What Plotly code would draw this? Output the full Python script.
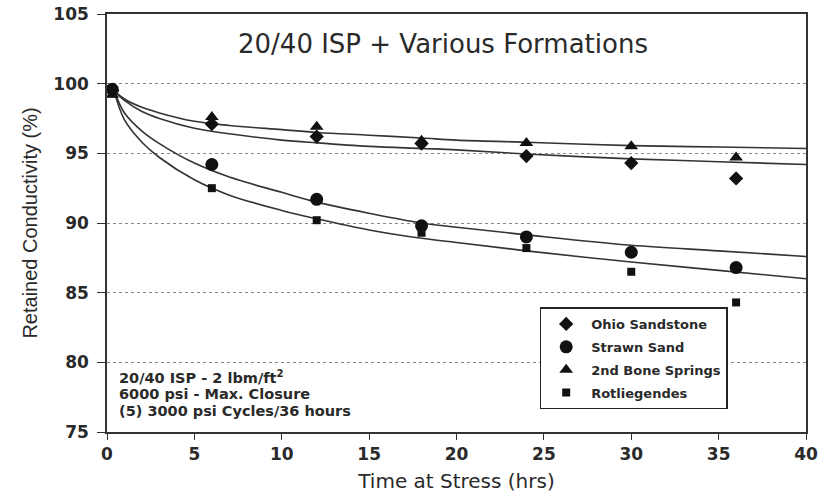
import plotly.graph_objects as go

# Measured data points
time_pts = [0.3, 6, 12, 18, 24, 30, 36]
ohio = [99.5, 97.1, 96.2, 95.7, 94.8, 94.3, 93.2]
strawn = [99.6, 94.2, 91.7, 89.8, 89.0, 87.9, 86.8]
bone = [99.2, 97.6, 96.9, 95.9, 95.75, 95.5, 94.7]
rotl = [99.3, 92.5, 90.2, 89.3, 88.2, 86.5, 84.3]

# Fitted curves
fit_t = [0.4, 1, 2, 3, 5, 7, 10, 12, 15, 18, 20, 24, 30, 35, 40]
fit_bone = [99.5, 98.9, 98.3, 97.9, 97.3, 97.0, 96.7, 96.5, 96.3, 96.1, 95.95, 95.8, 95.55, 95.45, 95.35]
fit_ohio = [99.5, 98.8, 98.0, 97.5, 96.8, 96.4, 95.95, 95.75, 95.5, 95.35, 95.25, 94.95, 94.6, 94.4, 94.2]
fit_strawn = [99.5, 97.9, 96.6, 95.7, 94.3, 93.3, 92.2, 91.5, 90.7, 90.0, 89.7, 89.15, 88.4, 88.0, 87.6]
fit_rotl = [99.5, 97.4, 95.8, 94.7, 93.1, 92.0, 90.9, 90.3, 89.5, 88.9, 88.6, 88.0, 87.2, 86.6, 86.0]

x_ticks = [0, 5, 10, 15, 20, 25, 30, 35, 40]
y_ticks = [75, 80, 85, 90, 95, 100, 105]

note_lines = ["20/40 ISP - 2 lbm/ft<sup>2</sup>", "6000 psi - Max. Closure", "(5) 3000 psi Cycles/36 hours"]

fig = go.Figure()

for ys in [fit_bone, fit_ohio, fit_strawn, fit_rotl]:
    fig.add_trace(go.Scatter(x=fit_t, y=ys, mode="lines", line=dict(color="#333", width=1.6, shape="spline"),
                             showlegend=False, hoverinfo="skip"))

series = [
    ("Ohio Sandstone", ohio, "diamond", 11),
    ("Strawn Sand", strawn, "circle", 13),
    ("2nd Bone Springs", bone, "triangle-up", 12),
    ("Rotliegendes", rotl, "square", 8),
]
for name, ys, sym, sz in series:
    fig.add_trace(go.Scatter(x=time_pts, y=ys, mode="markers", name=name, legendgroup=name,
                             marker=dict(symbol=sym, size=sz, color="#111", line=dict(width=0))))

wide = "DejaVu Sans, Verdana, sans-serif"
ink = "#2a2a2a"

annotations = [
    dict(text="20/40 ISP + Various Formations", x=0.481, y=0.928, xref="paper", yref="paper",
         xanchor="center", yanchor="middle",
         showarrow=False, font=dict(family=wide, size=26, color=ink)),
]
for line, yv in zip(note_lines, [0.1316, 0.0909, 0.0502]):
    annotations.append(dict(text=line, x=0.0143, y=yv, xref="paper", yref="paper",
                            xanchor="left", yanchor="middle", showarrow=False,
                            font=dict(family=wide, size=14.5, color=ink, weight="bold")))

fig.update_layout(
    width=825, height=497,
    margin=dict(l=107, r=19, t=14, b=65),
    paper_bgcolor="white", plot_bgcolor="white",
    font=dict(family=wide, color=ink),
    legend=dict(x=0.619, y=0.298, xanchor="left", yanchor="top",
                bordercolor="#222", borderwidth=1.5, bgcolor="white",
                font=dict(family=wide, size=13, color=ink, weight="bold"),
                tracegroupgap=3, itemwidth=40),
    xaxis=dict(range=[0, 40], tickvals=x_ticks, showgrid=False, zeroline=False, automargin=False,
               showline=True, linecolor="#333", linewidth=1.5, mirror=True,
               ticks="outside", ticklen=6, tickcolor="#333",
               tickfont=dict(family=wide, size=17, color=ink, weight="bold"),
               title=dict(text="Time at Stress (hrs)", font=dict(family=wide, size=20, color=ink), standoff=11)),
    yaxis=dict(range=[75, 105], tickvals=y_ticks, showgrid=True, gridcolor="#888", automargin=False,
               griddash="dot", gridwidth=1, zeroline=False,
               showline=True, linecolor="#333", linewidth=1.5, mirror=True,
               ticks="outside", ticklen=8, tickcolor="#333", ticklabelstandoff=5,
               tickfont=dict(family=wide, size=17, color=ink, weight="bold"),
               title=dict(text="Retained Conductivity (%)",
                          font=dict(family="Liberation Sans, Arial, sans-serif", size=20, color=ink), standoff=10)),
    annotations=annotations,
)

fig.write_html("out.html")
